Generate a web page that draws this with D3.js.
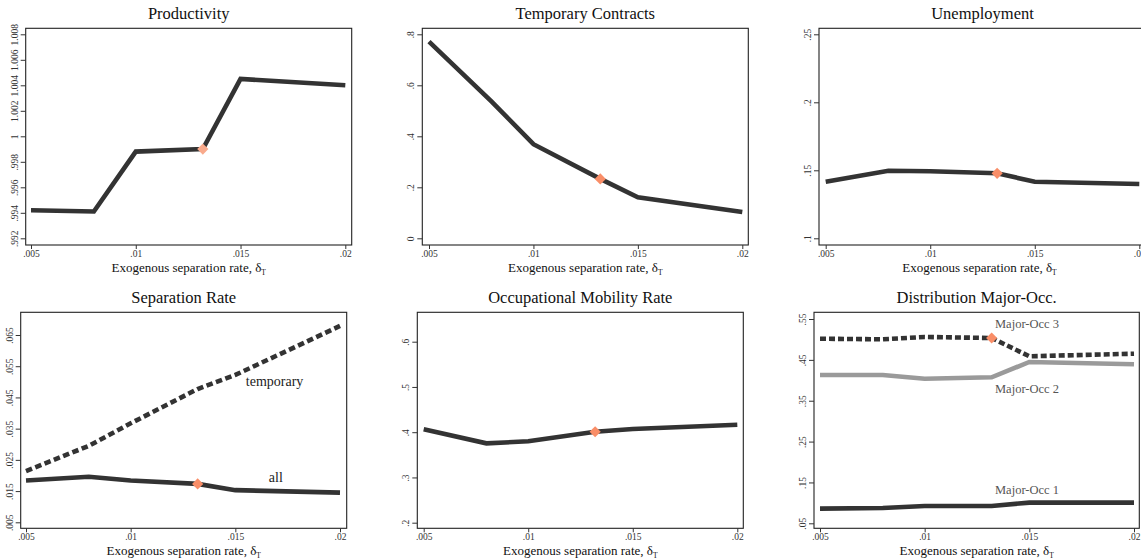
<!DOCTYPE html>
<html><head><meta charset="utf-8">
<script src="https://cdn.jsdelivr.net/npm/d3@7"></script>
<style>
html,body{margin:0;padding:0;background:#fff;overflow:hidden}
svg{display:block}
svg text{font-family:"Liberation Serif","Times New Roman",serif}
</style></head>
<body>
<svg id="c" width="1141" height="560"></svg>
<script>
// ---- data ----
const xVals = [0.005, 0.008, 0.01, 0.0132, 0.015, 0.02];
const markerIndex = 3;
const xTickVals = [0.005, 0.01, 0.015, 0.02];
const xTickLabels = [".005", ".01", ".015", ".02"];

const productivity = [0.9942, 0.9941, 0.9988, 0.9990, 1.0045, 1.0040];
const prodTicks = [0.992, 0.994, 0.996, 0.998, 1.0, 1.002, 1.004, 1.006, 1.008];
const prodTickLabels = [".992", ".994", ".996", ".998", "1", "1.002", "1.004", "1.006", "1.008"];

const tempContracts = [0.771, 0.536, 0.369, 0.233, 0.161, 0.103];
const tempTicks = [0, 0.2, 0.4, 0.6, 0.8];
const tempTickLabels = ["0", ".2", ".4", ".6", ".8"];

const unemployment = [0.1416, 0.1497, 0.1493, 0.1478, 0.1416, 0.1399];
const unempTicks = [0.1, 0.15, 0.2, 0.25];
const unempTickLabels = [".1", ".15", ".2", ".25"];

const sepTemporary = [0.0214, 0.0295, 0.0367, 0.0477, 0.0522, 0.0679];
const sepAll = [0.0184, 0.0196, 0.0184, 0.0173, 0.0153, 0.0145];
const sepTicks = [0.005, 0.015, 0.025, 0.035, 0.045, 0.055, 0.065];
const sepTickLabels = [".005", ".015", ".025", ".035", ".045", ".055", ".065"];

const occMobility = [0.4064, 0.3754, 0.3799, 0.4010, 0.4070, 0.4166];
const occTicks = [0.2, 0.3, 0.4, 0.5, 0.6];
const occTickLabels = [".2", ".3", ".4", ".5", ".6"];

const majorOcc1 = [0.0859, 0.0875, 0.0925, 0.0925, 0.1006, 0.1006];
const majorOcc2 = [0.413, 0.413, 0.4039, 0.4073, 0.4448, 0.4391];
const majorOcc3 = [0.5018, 0.5003, 0.506, 0.5035, 0.4587, 0.4651];
const distTicks = [0.05, 0.15, 0.25, 0.35, 0.45, 0.55];
const distTickLabels = [".05", ".15", ".25", ".35", ".45", ".55"];

const titles = ["Productivity", "Temporary Contracts", "Unemployment",
                "Separation Rate", "Occupational Mobility Rate", "Distribution Major-Occ."];

// ---- layout / style ----
const FONT = "Liberation Serif, Times New Roman, serif";
const DARK = "#333333", GRAY = "#9a9a9a", MARK = "#f98e68";
const panels = [
  {title: titles[0], L: 25.7, R: 351.7, T: 28.3, B: 245, x0: 31, x1: 345.3,
   yd: [0.992, 1.008], yr: [238.3, 34.3], ticks: prodTicks, tickLabels: prodTickLabels,
   series: [{v: productivity, color: DARK, marker: true}], markColor: "#f9aa8c"},
  {title: titles[1], L: 422.3, R: 748.3, T: 28.3, B: 245, x0: 429, x1: 742.3,
   yd: [0, 0.8], yr: [238.3, 34.3], ticks: tempTicks, tickLabels: tempTickLabels,
   series: [{v: tempContracts, color: DARK, marker: true}]},
  {title: titles[2], L: 819, R: 1146, T: 28.3, B: 245, x0: 825.7, x1: 1139.3,
   yd: [0.1, 0.25], yr: [238.3, 34.3], ticks: unempTicks, tickLabels: unempTickLabels,
   series: [{v: unemployment, color: DARK, marker: true}]},
  {title: titles[3], L: 20.7, R: 346.7, T: 312.3, B: 528.3, x0: 26, x1: 340,
   yd: [0.005, 0.065], yr: [522.3, 335], ticks: sepTicks, tickLabels: sepTickLabels,
   series: [{v: sepTemporary, color: DARK, dash: "6.5,3.5"},
            {v: sepAll, color: DARK, marker: true}],
   labels: [{t: "temporary", x: 0.0155, y: 0.0488, size: 14, color: "#222"},
            {t: "all", x: 0.0166, y: 0.0180, size: 14, color: "#222"}]},
  {title: titles[4], L: 417.3, R: 743.3, T: 312.3, B: 528.3, x0: 423.7, x1: 737.3,
   yd: [0.2, 0.6], yr: [522.7, 341.7], ticks: occTicks, tickLabels: occTickLabels,
   series: [{v: occMobility, color: DARK, marker: true}]},
  {title: titles[5], L: 814, R: 1139.3, T: 312.3, B: 528.3, x0: 820, x1: 1134,
   yd: [0.05, 0.55], yr: [523.3, 319], ticks: distTicks, tickLabels: distTickLabels,
   series: [{v: majorOcc2, color: GRAY},
            {v: majorOcc1, color: DARK},
            {v: majorOcc3, color: DARK, dash: "6,3", marker: true}],
   labels: [{t: "Major-Occ 3", x: 0.01336, y: 0.529, size: 12.5, color: "#555"},
            {t: "Major-Occ 2", x: 0.01336, y: 0.370, size: 12.5, color: "#555"},
            {t: "Major-Occ 1", x: 0.01336, y: 0.1205, size: 12.5, color: "#555"}]}
];

const svg = d3.select("#c");

panels.forEach(p => {
  const g = svg.append("g");
  const x = d3.scaleLinear().domain([0.005, 0.02]).range([p.x0, p.x1]);
  const y = d3.scaleLinear().domain(p.yd).range(p.yr);
  const xLab = new Map(xTickVals.map((v, i) => [v, xTickLabels[i]]));
  const yLab = new Map(p.ticks.map((v, i) => [v, p.tickLabels[i]]));

  // frame
  g.append("rect").attr("x", p.L).attr("y", p.T)
    .attr("width", p.R - p.L).attr("height", p.B - p.T)
    .attr("fill", "#fff").attr("stroke", "#222").attr("stroke-width", 1.1);

  // title
  g.append("text").attr("x", (p.L + p.R) / 2).attr("y", p.T - 9)
    .attr("text-anchor", "middle").attr("font-size", 16.5).attr("fill", "#111")
    .attr("font-family", FONT).text(p.title);

  // x axis
  const xa = g.append("g").attr("transform", `translate(0,${p.B})`)
    .call(d3.axisBottom(x).tickValues(xTickVals).tickSize(4).tickPadding(1)
      .tickFormat(d => xLab.get(d)));
  xa.attr("font-family", FONT);
  xa.select(".domain").remove();
  xa.selectAll("line").attr("stroke", "#333");
  xa.selectAll("text").attr("font-size", 9.5).attr("fill", "#333").attr("font-family", FONT);

  // y axis
  const ya = g.append("g").attr("transform", `translate(${p.L},0)`)
    .call(d3.axisLeft(y).tickValues(p.ticks).tickSize(5)
      .tickFormat(d => yLab.get(d)));
  ya.attr("font-family", FONT);
  ya.select(".domain").remove();
  ya.selectAll("line").attr("stroke", "#333");
  ya.selectAll("text").attr("font-size", 9.5).attr("fill", "#333").attr("font-family", FONT)
    .attr("text-anchor", "middle").attr("dy", null).attr("x", 0).attr("y", 0)
    .attr("transform", "translate(-8,0) rotate(-90)");

  // x-axis title
  const cx = p.R > 1141 ? (p.L + p.R) / 2 - 3 : (p.L + p.R) / 2;
  const xt = g.append("text").attr("x", cx)
    .attr("y", p.B + 27).attr("text-anchor", "middle").attr("font-size", 13)
    .attr("fill", "#111").attr("font-family", FONT);
  xt.append("tspan").text("Exogenous separation rate, δ");
  xt.append("tspan").attr("font-size", 7.5).attr("dy", 3).text("T");

  // lines
  const line = d3.line().x((d, i) => x(xVals[i])).y(d => y(d));
  p.series.forEach(s => {
    g.append("path").datum(s.v).attr("d", line)
      .attr("fill", "none").attr("stroke", s.color).attr("stroke-width", 4.6)
      .attr("stroke-linejoin", "miter")
      .attr("stroke-dasharray", s.dash || null);
  });
  // markers
  p.series.filter(s => s.marker).forEach(s => {
    g.append("path")
      .attr("d", d3.symbol().type(d3.symbolDiamond2).size(80)())
      .attr("transform", `translate(${x(xVals[markerIndex])},${y(s.v[markerIndex])})`)
      .attr("fill", p.markColor || MARK);
  });
  // labels
  (p.labels || []).forEach(l => {
    g.append("text").attr("x", x(l.x)).attr("y", y(l.y)).attr("font-family", FONT)
      .attr("font-size", l.size).attr("fill", l.color).text(l.t);
  });
});
</script>
</body></html>
